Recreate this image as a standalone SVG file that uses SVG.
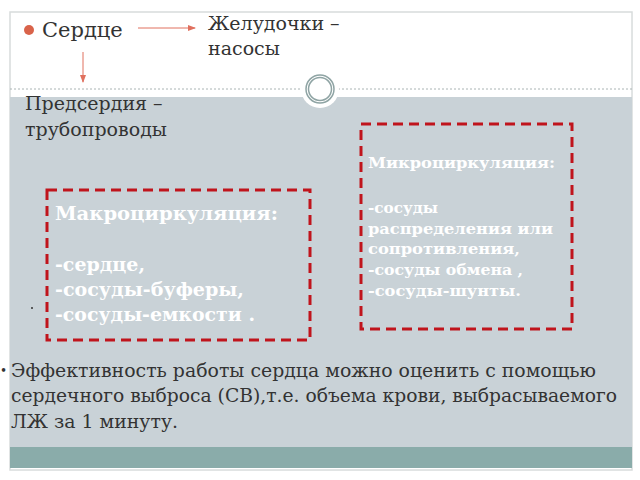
<svg xmlns="http://www.w3.org/2000/svg" width="640" height="480" viewBox="0 0 640 480">
<defs>
<style>
.t{font-family:"DejaVu Serif","Liberation Serif",serif;fill:#333}
.w{font-family:"DejaVu Serif","Liberation Serif",serif;fill:#ffffff;font-weight:bold}
.box{fill:none;stroke:#c0141c;stroke-width:3;stroke-dasharray:10 6}
.arr{stroke:#e0705e;stroke-width:1;fill:none}
</style>
<marker id="ah" markerWidth="8" markerHeight="6" refX="7" refY="3" orient="auto" markerUnits="userSpaceOnUse">
<path d="M0,0 L8,3 L0,6 Z" fill="#e0705e"/>
</marker>
</defs>
<rect x="0" y="0" width="640" height="480" fill="#ffffff"/>
<rect x="10" y="12" width="622" height="458" fill="#ffffff" stroke="#d8dcdc" stroke-width="1.5"/>
<rect x="10" y="97" width="622" height="350" fill="#c9d2d7"/>
<rect x="10" y="447" width="622" height="21" fill="#8aacaa"/>
<line x1="10" y1="89" x2="632" y2="89" stroke="#aab4b4" stroke-width="1" stroke-dasharray="2 2"/>
<circle cx="320" cy="89" r="19" fill="#ffffff"/>
<circle cx="320" cy="89" r="14" fill="#ffffff" stroke="#8fa4a4" stroke-width="1.5"/>
<circle cx="320" cy="89" r="11.5" fill="none" stroke="#8fa4a4" stroke-width="1.5"/>

<g id="serdce">
<circle cx="29" cy="30" r="5" fill="#d9634a"/>
<text class="t" x="42" y="37" font-size="21">Сердце</text>
</g>
<g id="zheludochki">
<text class="t" x="208" y="30" font-size="19">Желудочки –</text>
<text class="t" x="208" y="55" font-size="19">насосы</text>
</g>
<g id="predserdiya">
<text class="t" x="25" y="110" font-size="19">Предсердия –</text>
<text class="t" x="25" y="136" font-size="19">трубопроводы</text>
</g>
<g id="connectors">
<line class="arr" x1="138" y1="28" x2="195" y2="28" marker-end="url(#ah)"/>
<line class="arr" x1="83" y1="52" x2="83" y2="82" marker-end="url(#ah)"/>
</g>
<g id="macro">
<rect class="box" x="47" y="190" width="263" height="150"/>
<text class="w" x="55" y="220" font-size="18" textLength="223" lengthAdjust="spacingAndGlyphs">Макроциркуляция:</text>
<text class="w" x="55" y="271" font-size="18" textLength="90" lengthAdjust="spacingAndGlyphs">-сердце,</text>
<text class="w" x="55" y="296" font-size="18" textLength="189" lengthAdjust="spacingAndGlyphs">-сосуды-буферы,</text>
<text class="w" x="55" y="321" font-size="18" textLength="200" lengthAdjust="spacingAndGlyphs">-сосуды-емкости .</text>
</g>
<g id="micro">
<rect class="box" x="361" y="124" width="211" height="205"/>
<text class="w" x="368" y="168" font-size="15" textLength="187" lengthAdjust="spacingAndGlyphs">Микроциркуляция:</text>
<text class="w" x="368" y="213" font-size="15" textLength="70" lengthAdjust="spacingAndGlyphs">-сосуды</text>
<text class="w" x="368" y="234" font-size="15" textLength="185" lengthAdjust="spacingAndGlyphs">распределения или</text>
<text class="w" x="368" y="254" font-size="15" textLength="152" lengthAdjust="spacingAndGlyphs">сопротивления,</text>
<text class="w" x="368" y="275" font-size="15" textLength="155" lengthAdjust="spacingAndGlyphs">-сосуды обмена ,</text>
<text class="w" x="368" y="296" font-size="15" textLength="153" lengthAdjust="spacingAndGlyphs">-сосуды-шунты.</text>
</g>
<circle cx="32" cy="308" r="1" fill="#333"/>
<g id="bottom">
<text class="t" x="0" y="375" font-size="12">•</text>
<text class="t" x="11" y="377" font-size="19" textLength="585" lengthAdjust="spacingAndGlyphs">Эффективность работы сердца можно оценить с помощью</text>
<text class="t" x="11" y="402" font-size="19" textLength="606" lengthAdjust="spacingAndGlyphs">сердечного выброса (СВ),т.е. объема крови, выбрасываемого</text>
<text class="t" x="11" y="428" font-size="19" textLength="167" lengthAdjust="spacingAndGlyphs">ЛЖ  за 1 минуту.</text>
</g>
</svg>
